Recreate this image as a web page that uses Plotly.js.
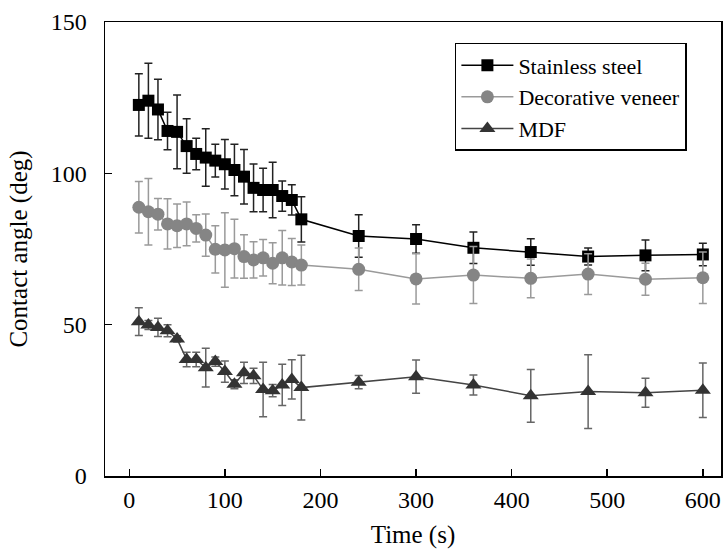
<!DOCTYPE html>
<html>
<head>
<meta charset="utf-8">
<script src="https://cdn.plot.ly/plotly-3.0.1.min.js"></script>
<style>html,body{margin:0;padding:0;background:#fff;}#chart{width:723px;height:549px;}</style>
</head>
<body>
<div id="chart"></div>
<script>
const time = [10,20,30,40,50,60,70,80,90,100,110,120,130,140,150,160,170,180,240,300,360,420,480,540,600];

const steel = [122.6,124.0,121.1,114.0,113.7,109.0,106.4,105.2,104.2,103.0,101.1,98.9,95.2,94.5,94.5,92.5,91.2,84.8,79.3,78.3,75.4,74.0,72.5,72.9,73.2];
const steelErr = [10.3,12.4,10.0,6.2,12.2,9.0,5.2,9.5,5.4,8.2,8.5,9.0,7.9,7.2,9.2,5.0,5.0,7.5,7.0,4.7,5.2,4.4,2.8,5.1,3.7];

const veneer = [88.8,87.3,86.5,83.3,82.7,83.3,81.8,79.6,74.9,74.7,75.1,72.5,71.4,72.1,70.3,72.1,70.7,69.7,68.3,65.1,66.4,65.3,66.7,65.0,65.5];
const veneerErr = [8.5,11.0,5.2,8.3,7.2,7.2,4.5,7.0,7.8,12.3,9.7,7.2,6.0,6.0,6.8,9.0,7.8,6.6,7.0,8.3,9.4,6.4,6.7,5.3,8.5];

const mdf = [51.0,49.9,49.1,48.0,45.3,38.5,38.5,35.8,37.8,34.5,30.3,34.1,33.1,28.6,28.2,30.1,31.9,29.2,31.0,32.8,30.1,26.5,27.9,27.5,28.3];
const mdfErr = [4.6,1.5,3.0,2.0,1.0,2.4,2.4,6.4,1.5,3.5,1.5,3.5,2.5,9.0,2.0,6.8,6.5,10.7,2.2,5.5,3.3,8.7,12.2,4.8,9.0];

const seriesNames = ["Stainless steel","Decorative veneer","MDF"];
const xTicks = [0,100,200,300,400,500,600];
const yTicks = [0,50,100,150];

const font = "Liberation Serif, Times New Roman, serif";

const traces = [
  {
    x: time, y: steel, name: seriesNames[0], type: "scatter", mode: "lines+markers",
    line: {color: "#000000", width: 1.5},
    marker: {symbol: "square", size: 12, color: "#000000"},
    error_y: {type: "data", array: steelErr, visible: true, color: "#222222", thickness: 1.5, width: 4}
  },
  {
    x: time, y: veneer, name: seriesNames[1], type: "scatter", mode: "lines+markers",
    line: {color: "#9a9a9a", width: 1.5},
    marker: {symbol: "circle", size: 13, color: "#858585"},
    error_y: {type: "data", array: veneerErr, visible: true, color: "#9a9a9a", thickness: 1.5, width: 4}
  },
  {
    x: time, y: mdf, name: seriesNames[2], type: "scatter", mode: "lines+markers",
    line: {color: "#444444", width: 1.5},
    marker: {symbol: "triangle-up", size: 14, color: "#333333"},
    error_y: {type: "data", array: mdfErr, visible: true, color: "#666666", thickness: 1.5, width: 4}
  }
];

const layout = {
  width: 723, height: 549,
  margin: {l: 105, r: 2, t: 22, b: 73},
  paper_bgcolor: "#ffffff", plot_bgcolor: "#ffffff",
  font: {family: font, size: 24, color: "#000"},
  showlegend: true,
  legend: {
    x: 0.568, y: 0.954, xanchor: "left", yanchor: "top",
    bordercolor: "#000", borderwidth: 1.5, bgcolor: "#fff",
    font: {family: font, size: 22, color: "#000"},
    itemwidth: 52, tracegroupgap: 0
  },
  xaxis: {
    range: [-25.4, 619],
    tickvals: xTicks,
    ticks: "inside", ticklen: 7, tickwidth: 1.5, tickcolor: "#000",
    showline: true, linecolor: "#000", linewidth: 1.5, mirror: true,
    showgrid: false, zeroline: false,
    tickfont: {family: font, size: 24},
    ticklabelstandoff: 2,
    title: {text: "Time (s)", font: {family: font, size: 25}, standoff: 14}
  },
  yaxis: {
    range: [0, 150],
    tickvals: yTicks,
    ticks: "inside", ticklen: 7, tickwidth: 1.5, tickcolor: "#000",
    showline: true, linecolor: "#000", linewidth: 1.5, mirror: true,
    showgrid: false, zeroline: false,
    tickfont: {family: font, size: 24},
    ticklabelstandoff: 12,
    title: {text: "Contact angle (deg)", font: {family: font, size: 25}, standoff: 16}
  }
};

Plotly.newPlot("chart", traces, layout, {displayModeBar: false, staticPlot: true});
</script>
</body>
</html>
